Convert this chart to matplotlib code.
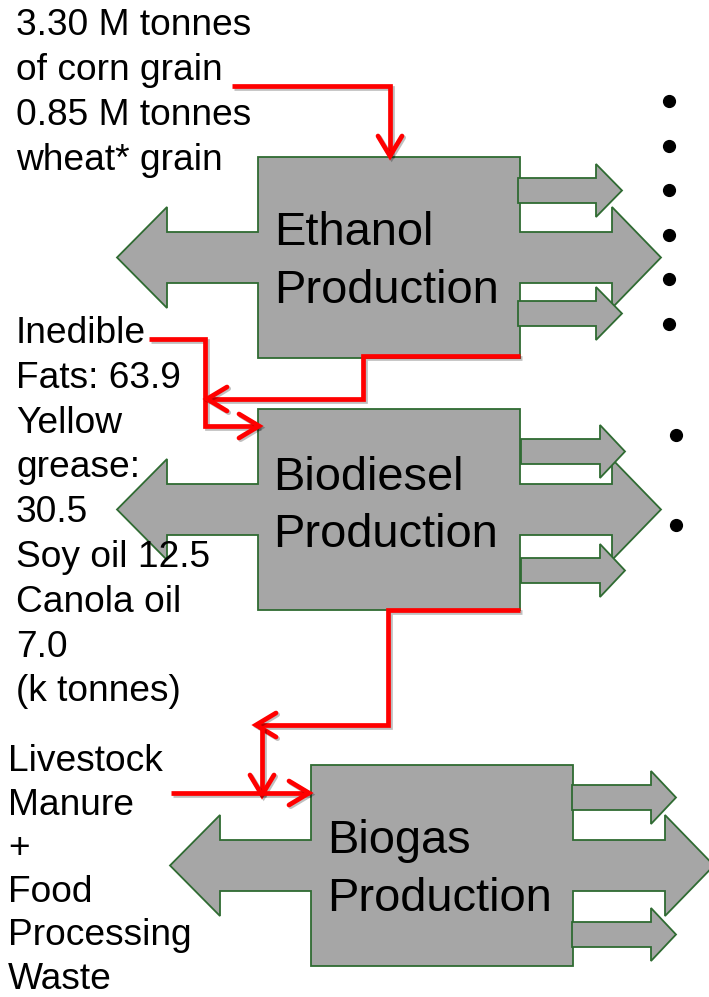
import matplotlib

matplotlib.use("Agg")
import matplotlib.patheffects as pe
import matplotlib.pyplot as plt
from matplotlib.patches import Polygon

# text of the diagram
grain_lines = ["3.30 M tonnes", "of corn grain", "0.85 M tonnes", "wheat* grain"]
fat_lines = ["Inedible", "Fats: 63.9", "Yellow", "grease:", "30.5",
             "Soy oil 12.5", "Canola oil", "7.0", "(k tonnes)"]
waste_lines = ["Livestock", "Manure", "+", "Food", "Processing", "Waste"]
unit_labels = [["Ethanol", "Production"], ["Biodiesel", "Production"], ["Biogas", "Production"]]
bullet_counts = [6, 2, 0]

FILL = "#a6a6a6"
EDGE = "#2f6b32"
RED = "#ff0000"
FONT = ["Liberation Sans", "DejaVu Sans"]
LW = 3.4
SIDE_SIZE = 26.7

fig = plt.figure(figsize=(7.09, 9.97), dpi=100)
ax = fig.add_axes([0, 0, 1, 1])
ax.set_xlim(0, 709)
ax.set_ylim(997, 0)
ax.axis("off")


def unit_outline(x0, y0, w=262, h=201):
    """Box merged with the wide double arrow behind it."""
    s0, s1 = y0 + 75, y0 + 126
    h0, h1, hc = y0 + 50, y0 + 151, y0 + 100.5
    lb, lt = x0 - 91, x0 - 141
    rb, rt = x0 + 354, x0 + 403
    pts = [(x0, y0), (x0 + w, y0), (x0 + w, s0), (rb, s0), (rb, h0), (rt, hc),
           (rb, h1), (rb, s1), (x0 + w, s1), (x0 + w, y0 + h), (x0, y0 + h),
           (x0, s1), (lb, s1), (lb, h1), (lt, hc), (lb, h0), (lb, s0), (x0, s0)]
    ax.add_patch(Polygon(pts, closed=True, facecolor=FILL, edgecolor=EDGE, lw=1.3, zorder=2))


def small_arrow(x_left, y_top, x_base, x_tip, shaft=25, head=53):
    yc = y_top + shaft / 2
    pts = [(x_left, y_top), (x_base, y_top), (x_base, yc - head / 2), (x_tip, yc),
           (x_base, yc + head / 2), (x_base, y_top + shaft), (x_left, y_top + shaft)]
    ax.add_patch(Polygon(pts, closed=True, facecolor=FILL, edgecolor=EDGE, lw=1.3, zorder=3))


shadow = [pe.SimpleLineShadow(offset=(1.2, -1.2), alpha=0.25), pe.Normal()]


def red_path(pts, head_len=20, head_w=12):
    xs, ys = zip(*pts)
    ax.plot(xs, ys, color=RED, lw=LW, solid_joinstyle="miter", solid_capstyle="butt",
            path_effects=shadow, zorder=5)
    (xa, ya), (xb, yb) = pts[-2], pts[-1]
    length = ((xb - xa) ** 2 + (yb - ya) ** 2) ** 0.5
    dx, dy = (xb - xa) / length, (yb - ya) / length
    px, py = -dy, dx
    ax.plot([xb - head_len * dx + head_w * px, xb, xb - head_len * dx - head_w * px],
            [yb - head_len * dy + head_w * py, yb, yb - head_len * dy - head_w * py],
            color=RED, lw=LW, solid_capstyle="round", solid_joinstyle="miter",
            path_effects=shadow, zorder=5)


# the three production units
units = [(258, 157), (258, 409), (311, 765)]
small_rows = [(21, 144), (30, 149), (20, 157)]
small_x = [(260, 338, 364), (263, 342, 367), (261, 340, 365)]
for (x0, y0), (top, bot), (xl, xb, xt) in zip(units, small_rows, small_x):
    unit_outline(x0, y0)
    small_arrow(x0 + xl, y0 + top, x0 + xb, x0 + xt)
    small_arrow(x0 + xl, y0 + bot, x0 + xb, x0 + xt)

label_offsets = [(16, 88, 146), (15, 81, 138), (16, 88, 146)]
for (x0, y0), labels, (dx, b1, b2) in zip(units, unit_labels, label_offsets):
    ax.text(x0 + dx, y0 + b1, labels[0], fontsize=33.8, family=FONT, va="baseline", zorder=6)
    ax.text(x0 + dx, y0 + b2, labels[1], fontsize=33.8, family=FONT, va="baseline", zorder=6)

# input text on the left
for i, line in enumerate(grain_lines):
    ax.text(16, 35 + 45 * i, line, fontsize=SIDE_SIZE, family=FONT, va="baseline")
for i, line in enumerate(fat_lines):
    ax.text(16, 343 + 44.8 * i, line, fontsize=SIDE_SIZE, family=FONT, va="baseline")
for i, line in enumerate(waste_lines):
    ax.text(8, 771 + 43.5 * i, line, fontsize=SIDE_SIZE, family=FONT, va="baseline")

# bullet points on the right
bullet_x = [669, 676, 0]
bullet_y0 = [101, 435, 0]
bullet_step = [44.6, 90, 0]
for n, bx, by, step in zip(bullet_counts, bullet_x, bullet_y0, bullet_step):
    for k in range(n):
        ax.plot(bx, by + step * k, "o", color="black", ms=8.5, zorder=6)

# red flow lines
red_path([(232, 86), (390, 86), (390, 156)])
red_path([(149, 339), (205, 339), (205, 426), (259, 426)])
red_path([(520, 356), (363, 356), (363, 399), (207, 399)])
red_path([(520, 610), (388, 610), (388, 725), (256, 725)])
red_path([(262, 727), (262, 795)])
red_path([(171, 793), (309, 793)])

fig.savefig("out.png", dpi=100)
